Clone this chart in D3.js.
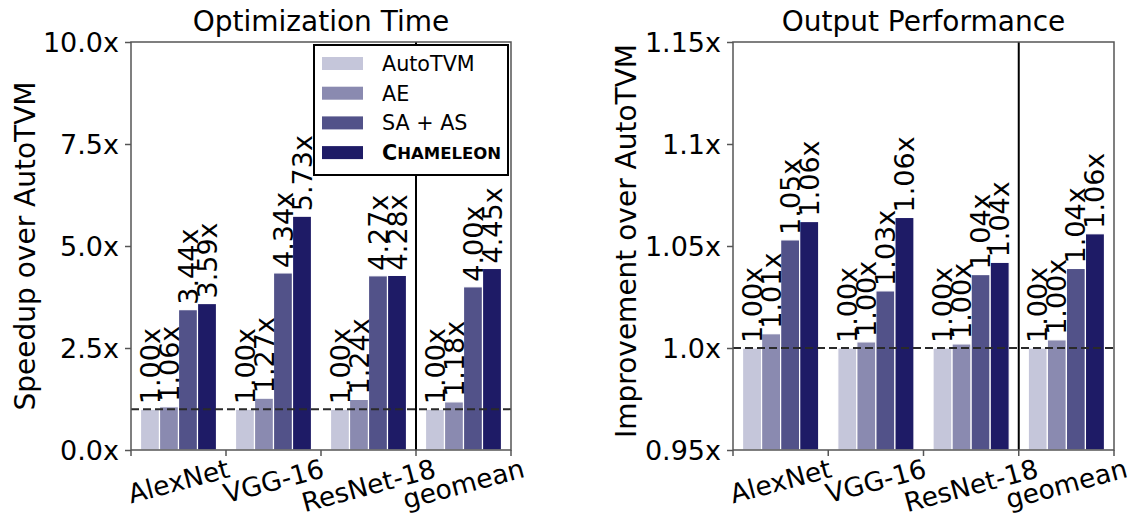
<!DOCTYPE html>
<html><head><meta charset="utf-8">
<script src="https://cdn.jsdelivr.net/npm/d3@7"></script>
<style>body{margin:0;background:#fff}text{font-family:"DejaVu Sans",sans-serif;fill:#000}</style>
</head><body>
<svg id="c" width="1135" height="516"></svg>
<script>
const categories = ["AlexNet","VGG-16","ResNet-18","geomean"];
const seriesNames = ["AutoTVM","AE","SA + AS","Chameleon"];
const colors = ["#c5c6da","#8a8ab0","#525289","#1e1b66"];
// Optimization time speedups
const timeAutoTVM = [1.00,1.00,1.00,1.00];
const timeAE      = [1.06,1.27,1.24,1.18];
const timeSAAS    = [3.44,4.34,4.27,4.00];
const timeCham    = [3.59,5.73,4.28,4.45];
// Output performance improvements
const perfAutoTVM = [1.000,1.000,1.000,1.000];
const perfAE      = [1.007,1.003,1.002,1.004];
const perfSAAS    = [1.053,1.028,1.036,1.039];
const perfCham    = [1.062,1.064,1.042,1.056];
const timeTicks = [0,2.5,5,7.5,10];
const perfTicks = [0.95,1.0,1.05,1.1,1.15];

const svg = d3.select("#c");
const fmt2 = d3.format(".2f");
const FS = 27;
const XFS = 26.5;

function panel(cfg){
  const {x0,x1,y0,y1,domain,ticks,tickFmt,series,title,ylabel,ylabelX,ylabelY} = cfg;
  const g = svg.append("g");
  const x = d3.scaleBand().domain(categories).range([x0,x1]).paddingInner(0.2).paddingOuter(0.1);
  const xs = d3.scaleBand().domain(seriesNames).range([0,x.bandwidth()]).padding(0);
  const y = d3.scaleLinear().domain(domain).range([y1,y0]);
  const step = x.step();

  series.forEach((vals,si)=>{
    g.selectAll(null).data(vals).enter().append("rect")
      .attr("x",(d,i)=>x(categories[i])+xs(seriesNames[si]))
      .attr("width",xs.bandwidth())
      .attr("y",d=>y(d)).attr("height",d=>y(domain[0])-y(d))
      .attr("fill",colors[si]).attr("stroke","#fff").attr("stroke-width",1.2);
  });
  g.append("line").attr("x1",x0).attr("x2",x1).attr("y1",y(1)).attr("y2",y(1))
    .attr("stroke","#2a2a2a").attr("stroke-width",2).attr("stroke-dasharray","8,4");
  const sx = x0+3*step;
  g.append("line").attr("x1",sx).attr("x2",sx).attr("y1",y0).attr("y2",y1)
    .attr("stroke","#000").attr("stroke-width",2);
  series.forEach((vals,si)=>{
    vals.forEach((d,i)=>{
      const cx = x(categories[i])+xs(seriesNames[si])+xs.bandwidth()/2;
      g.append("text").attr("transform",`translate(${cx},${y(d)-5}) rotate(-90)`)
        .attr("dominant-baseline","central").attr("text-anchor","start")
        .attr("font-size",FS).text(fmt2(d)+"x");
    });
  });
  g.append("rect").attr("x",x0).attr("y",y0).attr("width",x1-x0).attr("height",y1-y0)
    .attr("fill","none").attr("stroke","#555").attr("stroke-width",1.5);
  const ya = g.append("g").attr("transform",`translate(${x0},0)`)
    .call(d3.axisLeft(y).tickValues(ticks).tickFormat(tickFmt).tickSize(6).tickPadding(6));
  ya.select(".domain").remove();
  ya.selectAll("line").attr("stroke","#555").attr("stroke-width",1.5);
  ya.selectAll("text").attr("font-size",FS).attr("font-family","DejaVu Sans").attr("fill","#000").attr("dy","0.36em");
  const bounds = d3.range(5).map(i=>x0+i*step);
  g.selectAll(null).data(bounds).enter().append("line")
    .attr("x1",d=>d).attr("x2",d=>d).attr("y1",y1).attr("y2",y1+6)
    .attr("stroke","#555").attr("stroke-width",1.5);
  const ang = 15*Math.PI/180;
  categories.forEach(c=>{
    const cx = x(c)+x.bandwidth()/2;
    const t = g.append("text").attr("font-size",XFS).attr("text-anchor","middle")
      .attr("dominant-baseline","central").text(c);
    const w = t.node().getComputedTextLength();
    const h = XFS*0.75;
    const bh = w*Math.sin(ang)+h*Math.cos(ang);
    t.attr("transform",`translate(${cx},${y1+8+bh/2}) rotate(-15)`);
  });
  g.append("text").attr("x",(x0+x1)/2).attr("y",y0-11).attr("text-anchor","middle")
    .attr("font-size",28).text(title);
  g.append("text").attr("transform",`translate(${ylabelX},${ylabelY}) rotate(-90)`)
    .attr("text-anchor","middle").attr("dominant-baseline","central")
    .attr("font-size",28).text(ylabel);
  return {x,y,g};
}

panel({x0:131,x1:511,y0:42,y1:450,domain:[0,10],ticks:timeTicks,
  tickFmt:d=>d3.format(".1f")(d)+"x",
  series:[timeAutoTVM,timeAE,timeSAAS,timeCham],
  title:"Optimization Time",ylabel:"Speedup over AutoTVM",ylabelX:25,ylabelY:246});
panel({x0:733,x1:1114,y0:42,y1:450,domain:[0.95,1.15],ticks:perfTicks,
  tickFmt:d=>(d===0.95||d===1.05||d===1.15?d3.format(".2f")(d):d3.format(".1f")(d))+"x",
  series:[perfAutoTVM,perfAE,perfSAAS,perfCham],
  title:"Output Performance",ylabel:"Improvement over AutoTVM",ylabelX:626,ylabelY:241});

const lg = svg.append("g");
lg.append("rect").attr("x",314).attr("y",45).attr("width",194).attr("height",130)
  .attr("fill","#fff").attr("stroke","#000").attr("stroke-width",2);
seriesNames.forEach((s,i)=>{
  const cy = 63+i*29.7;
  lg.append("rect").attr("x",322).attr("y",cy-6).attr("width",41).attr("height",13).attr("fill",colors[i]);
  const t = lg.append("text").attr("x",382).attr("y",cy+1).attr("dominant-baseline","central").attr("font-size",20.7);
  if(s==="Chameleon"){
    t.attr("font-weight","bold");
    t.append("tspan").text("C");
    t.append("tspan").attr("font-size",16.5).text("HAMELEON");
  } else t.text(s);
});
</script>
</body></html>
